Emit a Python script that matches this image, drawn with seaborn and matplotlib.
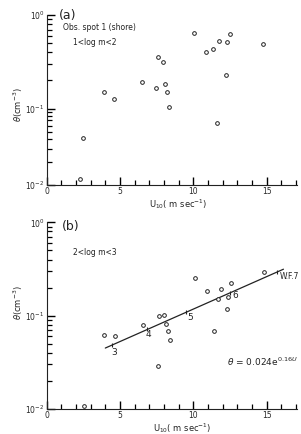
import matplotlib; matplotlib.use("Agg")
import matplotlib.pyplot as plt
import matplotlib.ticker as mticker
import numpy as np
import pandas as pd
import seaborn as sns

# ── data ──────────────────────────────────────────────────
# (a) obs. spot 1 (shore), 1 < log m < 2
a_u = [2.27, 2.50, 3.89, 4.59, 6.50, 7.62, 7.92, 7.46, 8.07, 8.19,
       8.35, 10.08, 10.87, 11.33, 11.65, 11.78, 12.24, 12.33, 12.49, 14.76]
a_theta = [0.0121, 0.0407, 0.152, 0.128, 0.19, 0.356, 0.315, 0.166, 0.184, 0.15,
           0.103, 0.645, 0.407, 0.438, 0.0655, 0.53, 0.23, 0.52, 0.63, 0.488]

# (b) 2 < log m < 3
b_u = [2.55, 3.93, 4.66, 6.59, 7.62, 7.69, 7.98, 8.12, 8.26, 8.40,
       10.12, 10.92, 11.40, 11.67, 11.90, 12.40, 12.33, 12.58, 14.83]
b_theta = [0.0107, 0.0617, 0.061, 0.079, 0.0292, 0.099, 0.1007, 0.0824, 0.069, 0.0543,
           0.255, 0.183, 0.0686, 0.151, 0.193, 0.158, 0.119, 0.223, 0.295]

# fitted line  theta = 0.024 exp(0.16 U)
fit_u = [4.0, 16.15]
fit_theta = [0.045, 0.315]

# wind force marks along the fit
wf_u = [4.48, 6.87, 9.49, 12.51, 15.70]
wf_theta = [0.0483, 0.0714, 0.1086, 0.175, 0.292]
wf_labels = ["3", "4", "5", "6", "W.F.7"]

y_ticks = [0.01, 0.1, 1.0]
y_ticklabels = [r"$10^{-2}$", r"$10^{-1}$", r"$10^{0}$"]
x_ticks = [0, 5, 10, 15]

INK = "#222222"

sns.set_theme(style="ticks")
plt.rcParams.update({
    "font.family": ["DejaVu Sans"],
    "axes.edgecolor": INK,
    "axes.linewidth": 0.8,
    "text.color": INK,
    "axes.labelcolor": INK,
})


# panel (a) of the scan has a squeezed lower decade
def fwd(y):
    lg = np.log10(np.clip(y, 1e-300, None))
    return np.where(lg >= -1, lg * 93.0, -93.0 + (lg + 1) * 76.0)


def inv(p):
    p = np.asarray(p, dtype=float)
    return np.where(p >= -93.0, 10 ** (p / 93.0), 10 ** ((p + 93.0) / 76.0 - 1))


def style_axes(ax, squeezed=False):
    if squeezed:
        ax.set_yscale("function", functions=(fwd, inv))
    else:
        ax.set_yscale("log")
    ax.set_ylim(0.01, 1.0)
    ax.set_xlim(0, 17.1)
    ax.spines["top"].set_visible(False)
    ax.spines["right"].set_visible(False)
    ax.set_yticks(y_ticks, y_ticklabels)
    ax.set_yticks([m * d for d in (0.01, 0.1) for m in range(2, 10)], minor=True)
    ax.set_xticks(x_ticks)
    ax.set_xticks([v for v in range(1, 18) if v % 5], minor=True)
    ax.yaxis.set_minor_formatter(mticker.NullFormatter())
    ax.xaxis.set_minor_formatter(mticker.NullFormatter())
    ax.tick_params(axis="both", which="major", direction="in", length=6, width=1.0,
                   color="black", labelsize=5.5, pad=1.5, left=True, bottom=True)
    ax.tick_params(axis="both", which="minor", direction="in", length=3.5, width=0.9,
                   color="black", left=True, bottom=True)
    ax.set_xlabel(r"U$_{10}$( m sec$^{-1}$)", fontsize=6)
    ax.set_ylabel(r"$\theta$(cm$^{-3}$)", fontsize=6)


fig = plt.figure(figsize=(3.01, 4.34), dpi=100)
ax_a = fig.add_axes([0.155, 0.5737, 0.833, 0.3917])
ax_b = fig.add_axes([0.155, 0.0576, 0.833, 0.430])

df_a = pd.DataFrame({"u": a_u, "theta": a_theta})
df_b = pd.DataFrame({"u": b_u, "theta": b_theta})

for ax, df in ((ax_a, df_a), (ax_b, df_b)):
    sns.scatterplot(data=df, x="u", y="theta", ax=ax, marker="o", s=7,
                    facecolor="white", edgecolor=INK, linewidth=0.7, zorder=3)

style_axes(ax_a, squeezed=True)
style_axes(ax_b)

ax_a.xaxis.set_label_coords(0.523, -0.07)
ax_a.yaxis.set_label_coords(-0.088, 0.47)
ax_b.xaxis.set_label_coords(0.54, -0.064)
ax_b.yaxis.set_label_coords(-0.088, 0.57)

# fit line and wind-force marks
ax_b.plot(fit_u, fit_theta, color=INK, linewidth=0.9, zorder=2)
ax_b.plot(wf_u, wf_theta, linestyle="none", marker="|", markersize=3,
          color=INK, markeredgewidth=0.8, zorder=2)
# label offsets in points from each mark
wf_offsets = [(1.5, -5.0), (1.0, -3.8), (3.0, -3.5), (4.0, -2.0), (2.0, -3.0)]
for u, t, lab, off in zip(wf_u, wf_theta, wf_labels, wf_offsets):
    ha = "left" if lab.startswith("W") else "center"
    ax_b.annotate(lab, (u, t), xytext=off, textcoords="offset points",
                  fontsize=6.5 if ha == "center" else 5.5, ha=ha, va="center")

# annotations
ax_a.text(0.047, 1.0, "(a)", transform=ax_a.transAxes, fontsize=9, va="center", ha="left")
ax_a.text(0.067, 0.925, "Obs. spot 1 (shore)", transform=ax_a.transAxes, fontsize=5.5, va="center")
ax_a.text(0.106, 0.84, "1<log m<2", transform=ax_a.transAxes, fontsize=5.5, va="center")

ax_b.text(0.06, 0.98, "(b)", transform=ax_b.transAxes, fontsize=9, va="center", ha="left")
ax_b.text(0.106, 0.84, "2<log m<3", transform=ax_b.transAxes, fontsize=5.5, va="center")
ax_b.text(0.718, 0.253, r"$\theta$ = 0.024e$^{0.16U}$", transform=ax_b.transAxes,
          fontsize=6.5, va="center")

fig.savefig("out.png", dpi=100)
plt.close(fig)
